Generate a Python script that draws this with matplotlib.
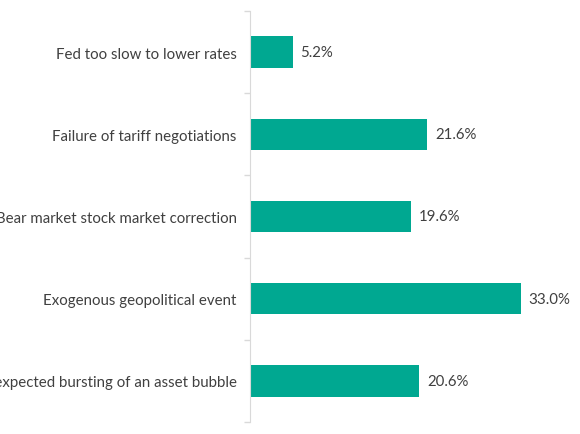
import matplotlib.pyplot as plt

# data
categories = ['Fed too slow to lower rates',
              'Failure of tariff negotiations',
              'Bear market stock market correction',
              'Exogenous geopolitical event',
              'Unexpected bursting of an asset bubble']
values = [5.2, 21.6, 19.6, 33.0, 20.6]

plt.rcParams['font.family'] = ['Lato', 'DejaVu Sans']

fig = plt.figure(figsize=(5.8, 4.35), dpi=100)
ax = fig.add_axes([250 / 580, 12 / 435, 330 / 580, 411 / 435])

pos = list(range(len(categories)))
ax.barh(pos, values, height=0.38, color='#00a891')
ax.set_ylim(len(categories) - 0.5, -0.5)
ax.set_xlim(0, 330 / 8.21)

for p, v in zip(pos, values):
    ax.text(v + 0.95, p, f'{v:.1f}%', va='center', ha='left',
            fontsize=10.8, color='#404040')

ax.set_yticks(pos)
ax.set_yticklabels(categories, fontsize=10.8, color='#404040')
ax.set_yticks([p - 0.5 for p in pos] + [len(pos) - 0.5], minor=True)
ax.tick_params(axis='y', which='major', length=0, pad=9.5)
ax.tick_params(axis='y', which='minor', length=4, color='#d9d9d9', width=1)
ax.set_xticks([])

for s in ['top', 'right', 'bottom']:
    ax.spines[s].set_visible(False)
ax.spines['left'].set_color('#d9d9d9')

fig.savefig('out.png', dpi=100)
